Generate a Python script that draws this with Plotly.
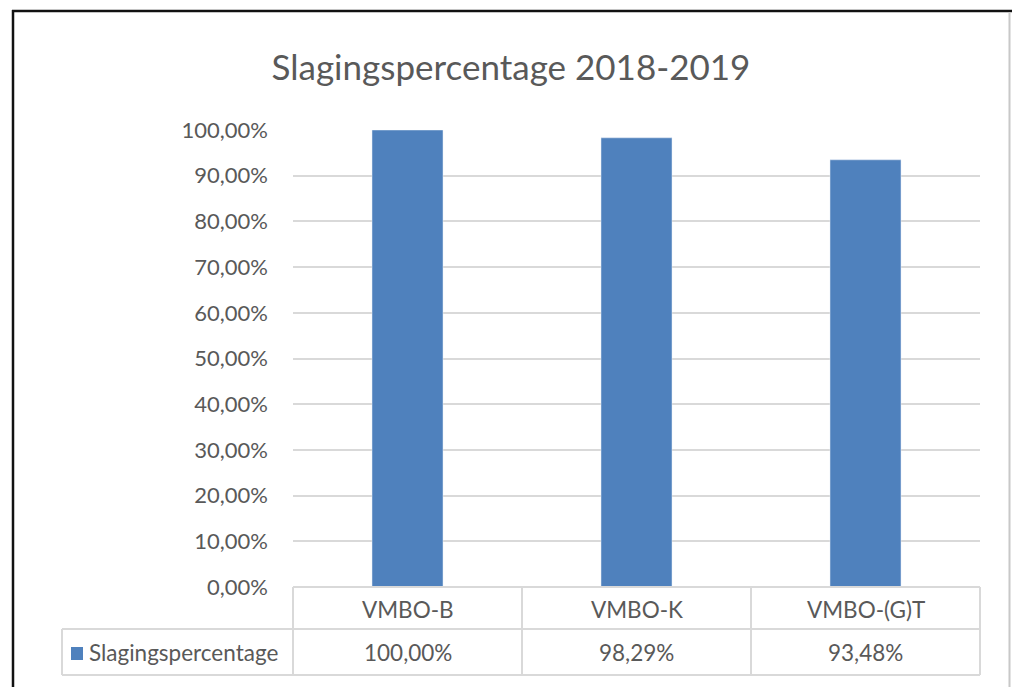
import plotly.graph_objects as go

categories = ["VMBO-B", "VMBO-K", "VMBO-(G)T"]
values = [1.0, 0.9829, 0.9348]
value_labels = ["100,00%", "98,29%", "93,48%"]
series_name = "Slagingspercentage"
title_text = "Slagingspercentage 2018-2019"

W, H = 1012, 687
L, R, T, B = 293, 980, 130, 587
pw, ph = R - L, B - T

def px(x):
    return (x - L) / pw

def py(y):
    return (B - y) / ph

FONT = "Lato, 'Open Sans', sans-serif"
GRAY = "#595959"
LINE = "#d9d9d9"
BLUE = "#4f81bd"
FS_TICK = 22
FS_TAB = 22.5

fig = go.Figure(go.Bar(x=categories, y=values, marker_color=BLUE, width=0.31, name=series_name))

shapes = []
row1_top, row1_bot, row2_bot = 587, 629, 675
def hline(x0, x1, y):
    shapes.append(dict(type="line", xref="paper", yref="paper", x0=px(x0), x1=px(x1), y0=py(y), y1=py(y), line=dict(color=LINE, width=2)))
def vline(x, y0, y1):
    shapes.append(dict(type="line", xref="paper", yref="paper", x0=px(x), x1=px(x), y0=py(y0), y1=py(y1), line=dict(color=LINE, width=2)))

hline(L, R, row1_top)
hline(62, R, row1_bot)
hline(62, R, row2_bot)
col_edges = [L + pw * i / len(categories) for i in range(len(categories) + 1)]
for xe in col_edges:
    vline(xe, row1_top, row2_bot)
vline(62, row1_bot, row2_bot)

# legend key
shapes.append(dict(type="rect", xref="paper", yref="paper", x0=px(71), x1=px(83), y0=py(660), y1=py(647), fillcolor=BLUE, line=dict(width=0)))

# outer frame
shapes.append(dict(type="line", xref="paper", yref="paper", x0=px(13), x1=px(13), y0=py(10), y1=py(700), line=dict(color="#111111", width=2.5)))
shapes.append(dict(type="line", xref="paper", yref="paper", x0=px(12), x1=px(1012), y0=py(11), y1=py(11), line=dict(color="#111111", width=2.5)))
shapes.append(dict(type="line", xref="paper", yref="paper", x0=px(1009.5), x1=px(1009.5), y0=py(12), y1=py(700), line=dict(color="#c8c8c8", width=2)))

annotations = []
for i, (c, v) in enumerate(zip(categories, value_labels)):
    cx = (col_edges[i] + col_edges[i + 1]) / 2
    annotations.append(dict(x=px(cx), y=py((row1_top + row1_bot) / 2 + 1), xref="paper", yref="paper", text=c, showarrow=False, font=dict(family=FONT, size=FS_TAB, color=GRAY), xanchor="center", yanchor="middle"))
    annotations.append(dict(x=px(cx), y=py((row1_bot + row2_bot) / 2), xref="paper", yref="paper", text=v, showarrow=False, font=dict(family=FONT, size=FS_TAB, color=GRAY), xanchor="center", yanchor="middle"))
annotations.append(dict(x=px(87), y=py((row1_bot + row2_bot) / 2), xref="paper", yref="paper", text=series_name, showarrow=False, font=dict(family=FONT, size=FS_TAB, color=GRAY), xanchor="left", yanchor="middle"))

fig.update_layout(
    width=W, height=H,
    margin=dict(l=L, r=W - R, t=T, b=H - B, pad=0),
    paper_bgcolor="white", plot_bgcolor="white",
    separators=",.",
    showlegend=False,
    title=dict(text=title_text, x=px(511), xref="paper", xanchor="center",
               y=1 - 68 / H, yanchor="middle",
               font=dict(family=FONT, size=35, color=GRAY)),
    xaxis=dict(showticklabels=False, showgrid=False, zeroline=False, showline=False, ticks=""),
    yaxis=dict(range=[0, 1.0], dtick=0.1, tickformat=".2%", showgrid=True, gridcolor=LINE, gridwidth=2,
               zeroline=False, showline=False, ticks="", ticklabelstandoff=24,
               tickfont=dict(family=FONT, size=FS_TICK, color=GRAY)),
    shapes=shapes,
    annotations=annotations,
)

fig.write_html("out.html", config={"displayModeBar": False},
               post_script="document.body.style.margin='0';document.body.style.overflow='hidden';")
